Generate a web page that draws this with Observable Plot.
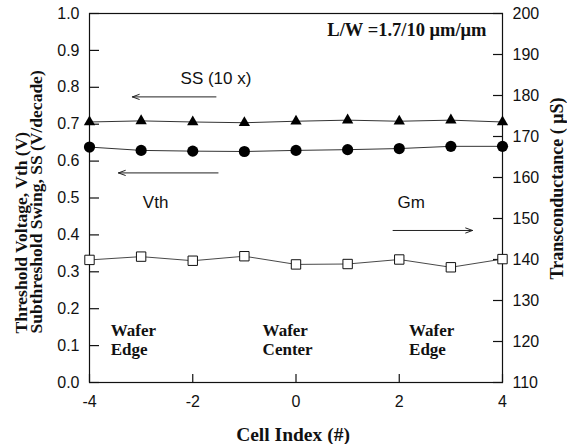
<!DOCTYPE html>
<html>
<head>
<meta charset="utf-8">
<script src="https://cdn.jsdelivr.net/npm/d3@7"></script>
<script src="https://cdn.jsdelivr.net/npm/@observablehq/plot@0.6"></script>
<style>
  html, body { margin: 0; padding: 0; background: white; }
  #chart { position: relative; width: 567px; height: 444px; }
  #chart svg { position: absolute; left: 0; top: 0; }
</style>
</head>
<body>
<div id="chart"></div>
<script>
// ---- data ----
const cellIndex = [-4, -3, -2, -1, 0, 1, 2, 3, 4];
const ssValues  = [0.706, 0.709, 0.706, 0.704, 0.708, 0.711, 0.708, 0.711, 0.706]; // SS (10x), V/decade
const vthValues = [0.638, 0.629, 0.627, 0.626, 0.629, 0.631, 0.634, 0.640, 0.640]; // Vth, V
const gmValues  = [139.9, 140.7, 139.7, 140.8, 138.8, 138.9, 140.0, 138.1, 140.1]; // Gm, uS

const xTicks = [-4, -2, 0, 2, 4];
const leftTicks = [0, 0.1, 0.2, 0.3, 0.4, 0.5, 0.6, 0.7, 0.8, 0.9, 1.0];
const rightTicks = [110, 120, 130, 140, 150, 160, 170, 180, 190, 200];

const leftLabelLines = ["Threshold Voltage, Vth (V)", "Subthreshold Swing, SS (V/decade)"];
const rightLabel = "Transconductance ( \u03bcS)";
const xLabel = "Cell Index (#)";

// annotations (data coordinates on the left scale)
const notes = [
  {x: -1.55, y: 0.824, text: "SS (10 x)"},
  {x: -2.72, y: 0.489, text: "Vth"},
  {x: 2.23, y: 0.489, text: "Gm"}
];
const arrows = [
  {x1: -1.55, x2: -3.17, y: 0.774},
  {x1: -1.51, x2: -3.44, y: 0.568},
  {x1: 1.88, x2: 3.42, y: 0.412}
];
const waferLeft = [
  {x: -3.59, y: 0.117, text: "Wafer\nEdge"},
  {x: -0.647, y: 0.117, text: "Wafer\nCenter"}
];
const waferRight = [{x: 2.19, y: 0.117, text: "Wafer\nEdge"}];
const geomNote = [{x: 3.69, y: 0.955, text: "L/W =1.7/10 \u03bcm/\u03bcm"}];

const sans = "'Liberation Sans', Arial, sans-serif";
const serif = "'Liberation Serif', 'Times New Roman', serif";

const W = 567, H = 444;
const margins = {marginLeft: 89, marginRight: 65, marginTop: 13, marginBottom: 62};

const rows = cellIndex.map((c, i) => ({c, ss: ssValues[i], vth: vthValues[i], gm: gmValues[i]}));
const noLabel = () => "";

const base = Plot.plot({
  width: W, height: H, ...margins,
  style: {fontFamily: sans, fontSize: "16px", color: "#111", background: "white"},
  x: {domain: [-4, 4]},
  y: {domain: [0, 1]},
  marks: [
    Plot.frame({stroke: "#111", strokeWidth: 1.2}),
    // inward tick marks
    Plot.axisY(leftTicks, {anchor: "left", tickSize: 10, dx: 10, tickFormat: noLabel, label: null, strokeWidth: 1.2}),
    Plot.axisX(xTicks, {anchor: "bottom", tickSize: 8, dy: -8, tickFormat: noLabel, label: null, strokeWidth: 1.2}),
    // tick labels
    Plot.axisY(leftTicks, {anchor: "left", tickSize: 0, tickPadding: 10, tickFormat: d3.format(".1f"), label: null, fontSize: 16}),
    Plot.axisX(xTicks, {anchor: "bottom", tickSize: 0, tickPadding: 13, tickFormat: d => d < 0 ? "-" + Math.abs(d) : String(d), label: null, fontSize: 16}),
    Plot.line(rows, {x: "c", y: "ss", stroke: "#333", strokeWidth: 1}),
    Plot.line(rows, {x: "c", y: "vth", stroke: "#333", strokeWidth: 1}),
    Plot.dot(rows, {x: "c", y: "ss", symbol: "triangle", r: 4.2, fill: "#000", stroke: "none"}),
    Plot.dot(rows, {x: "c", y: "vth", symbol: "circle", r: 5.6, fill: "#000", stroke: "none"}),
    Plot.text(notes, {x: "x", y: "y", text: "text", fontFamily: sans, fontSize: 17, fill: "#111"}),
    Plot.arrow(arrows, {x1: "x1", x2: "x2", y1: "y", y2: "y", stroke: "#222", strokeWidth: 1, headLength: 11, headAngle: 40}),
    Plot.text(waferLeft, {x: "x", y: "y", text: "text", textAnchor: "start", lineAnchor: "middle", lineHeight: 1.12, fontFamily: serif, fontWeight: "bold", fontSize: 17, fill: "#111"}),
    Plot.text(waferRight, {x: "x", y: "y", text: "text", textAnchor: "start", lineAnchor: "middle", lineHeight: 1.12, fontFamily: serif, fontWeight: "bold", fontSize: 17, fill: "#111"}),
    Plot.text(geomNote, {x: "x", y: "y", text: "text", textAnchor: "end", fontFamily: serif, fontWeight: "bold", fontSize: 18.5, fill: "#111"}),
    Plot.text([leftLabelLines[0]], {frameAnchor: "bottom-left", dx: -68, dy: -49, rotate: -90, textAnchor: "start", lineAnchor: "middle", fontFamily: serif, fontWeight: "bold", fontSize: 17.5, fill: "#111"}),
    Plot.text([leftLabelLines[1]], {frameAnchor: "bottom-left", dx: -53, dy: -49, rotate: -90, textAnchor: "start", lineAnchor: "middle", fontFamily: serif, fontWeight: "bold", fontSize: 17.5, fill: "#111"}),
    Plot.text([xLabel], {frameAnchor: "bottom", dx: -3, dy: 52, lineAnchor: "middle", fontFamily: serif, fontWeight: "bold", fontSize: 19.5, fill: "#111"})
  ]
});

const overlay = Plot.plot({
  width: W, height: H, ...margins,
  style: {fontFamily: sans, fontSize: "16px", color: "#111", background: "transparent"},
  x: {domain: [-4, 4], axis: null},
  y: {domain: [110, 200], axis: null},
  marks: [
    Plot.axisY(rightTicks, {anchor: "right", tickSize: 10, dx: -10, tickFormat: noLabel, label: null, strokeWidth: 1.2}),
    Plot.axisY(rightTicks, {anchor: "right", tickSize: 0, tickPadding: 10, label: null, fontSize: 16}),
    Plot.line(rows, {x: "c", y: "gm", stroke: "#333", strokeWidth: 0.9}),
    Plot.dot(rows, {x: "c", y: "gm", symbol: "square", r: 5.3, fill: "white", stroke: "#111", strokeWidth: 1}),
    Plot.text([rightLabel], {frameAnchor: "right", dx: 55, dy: -9.5, rotate: -90, textAnchor: "middle", lineAnchor: "middle", fontFamily: serif, fontWeight: "bold", fontSize: 18, fill: "#111"})
  ]
});

const chart = document.getElementById("chart");
chart.appendChild(base);
chart.appendChild(overlay);
</script>
</body>
</html>
